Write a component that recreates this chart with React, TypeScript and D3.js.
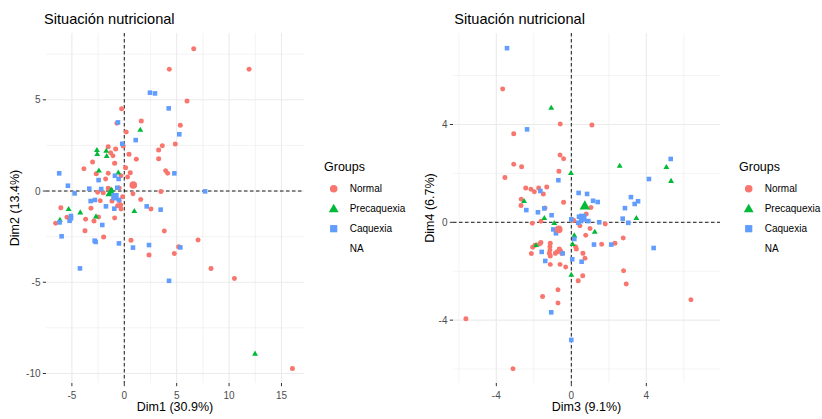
import React from "react";
import * as d3 from "d3";

type P = [number, number];

// ---------- data ----------
const groups = ["Normal", "Precaquexia", "Caquexia"];
const legendLabels = ["Normal", "Precaquexia", "Caquexia", "NA"];
const groupColors = ["#F8766D", "#00BA38", "#619CFF"];

// Dim1 vs Dim2
const dim12Normal: P[] = [
  [6.63, 7.8], [11.91, 6.67], [4.3, 6.67], [5.99, 4.93], [-0.25, 4.51], [1.62, 3.84],
  [-0.7, 3.71], [5.35, 3.6], [0.19, 3.23], [4.87, 2.58], [3.63, 2.48], [3.28, 2.25],
  [-1.53, 2.43], [-0.82, 2.3], [-0.1, 2.47], [-1.3, 2.1], [-1.08, 1.93], [0.45, 2.01],
  [1.15, 1.74], [3.28, 1.77], [-3.02, 1.59], [-0.92, 1.52], [-3.85, 1.22], [0.13, 1.28],
  [3.95, 1.11], [4.14, 0.97], [-2.67, 0.95], [-1.53, 0.97], [0.57, 1.0], [0.32, 0.77],
  [-1.78, 0.66], [3.5, -0.02], [0.83, -0.15], [-2.54, -0.07], [2.55, -0.99], [3.82, -2.19],
  [7.04, -2.68], [5.19, -3.05], [4.78, -3.42], [-0.31, 0.84], [-0.48, 0.16], [-1.53, 0.15],
  [-1.3, 0.05], [-0.15, -0.31], [1.57, -0.46], [-2.29, -0.53], [-0.48, -0.53], [-0.35, -0.77],
  [-0.31, -0.99], [-0.63, -0.8], [-6.05, -0.91], [-3.18, -0.95], [-5.47, -1.44], [-3.69, -1.55],
  [-2.45, -1.42], [-2.89, -1.64], [-0.92, -1.48], [-6.55, -1.77], [-3.75, -2.17], [-1.97, -2.52],
  [0.64, -2.7], [-1.17, -0.55], [2.36, -3.51], [8.28, -4.24], [10.51, -4.79], [16.05, -9.72],
  [-2.0, -0.09],
];
const dim12Precaquexia: P[] = [
  [1.53, 3.34], [-2.61, 2.23], [-2.58, 2.01], [-1.72, 2.19], [-1.68, 1.9], [-2.42, 1.11],
  [-0.57, 1.0], [-1.2, 0.05], [-5.31, -1.0], [-4.2, -1.19], [0.96, -1.11], [-6.14, -1.59],
  [-2.7, -1.41], [12.48, -8.93],
];
const dim12Caquexia: P[] = [
  [2.45, 5.39], [2.93, 5.35], [4.24, 4.53], [5.25, 3.11], [4.78, 0.97], [7.71, -0.02],
  [3.47, -1.02], [5.35, -3.09], [-6.21, 0.97], [-5.38, 0.29], [-4.74, -0.13], [-3.34, 0.13],
  [-2.45, 0.6], [-0.6, 3.76], [-0.19, 2.59], [1.09, 2.79], [-0.89, 0.84], [-0.54, 0.66],
  [-2.2, 0.11], [-3.21, -0.55], [-2.8, -0.49], [-1.75, -0.84], [2.14, -0.84], [-0.67, 0.18],
  [-5.09, -1.37], [-5.09, -1.5], [-6.17, -1.72], [-2.1, -1.86], [-5.98, -2.48], [-2.83, -2.72],
  [-2.73, -2.79], [-0.51, -2.87], [0.83, -3.1], [2.36, -2.96], [-0.95, -0.97], [-4.23, -4.24],
  [4.27, -4.92], [-5.22, -1.63], [-0.51, -0.49],
];
// group mean points: Normal, Precaquexia, Caquexia
const dim12Means: P[] = [[0.86, 0.33], [-1.3, -0.12], [-0.89, -0.31]];

// Dim3 vs Dim4
const dim34Normal: P[] = [
  [-3.66, 5.45], [-0.59, 4.02], [1.1, 3.98], [-3.07, 3.62], [-0.6, 2.75], [-0.41, 2.6],
  [-3.07, 2.37], [-2.65, 2.27], [-0.66, 2.09], [-3.54, 1.83], [-2.43, 1.4], [-2.15, 1.35],
  [-1.97, 1.25], [-1.74, 1.4], [-1.49, 1.16], [-1.31, 1.44], [-2.67, 0.94], [-0.41, 0.82],
  [-2.68, 0.69], [-1.4, 0.58], [1.05, 0.61], [-2.08, -0.04], [-1.62, 0.04], [0.8, 0.34],
  [1.81, -0.07], [0.77, -0.53], [1.62, -0.9], [2.33, -0.86], [2.77, -0.64], [-2.06, -1.02],
  [-1.94, -0.94], [-1.69, -0.89], [-1.62, -0.83], [-2.13, -1.28], [-1.12, -0.86], [-1.14, -1.0],
  [-1.14, -1.13], [-1.17, -1.27], [-1.12, -1.38], [-0.85, -1.27], [-0.64, -1.09], [-0.57, -1.16],
  [-0.51, -1.27], [-0.75, -1.2], [0.23, -1.0], [0.27, -1.09], [0.62, -1.27], [0.73, -1.47],
  [-1.12, -1.72], [-0.6, -1.72], [-0.3, -1.83], [2.79, -1.98], [0.61, -2.18], [0.37, -2.39],
  [2.93, -2.52], [-0.71, -2.76], [-1.53, -3.03], [-0.71, -3.3], [6.38, -3.17], [-5.62, -3.94],
  [-3.11, -5.99], [0.13, 0.07], [0.46, -0.14], [1.0, -0.25],
];
const dim34Precaquexia: P[] = [
  [-1.07, 4.67], [-0.02, 2.0], [2.58, 2.3], [5.07, 2.25], [5.32, 1.68], [-2.52, 0.86],
  [-1.44, 0.16], [-0.91, -0.04], [-1.88, -0.94], [0.16, -0.55], [1.25, -0.4], [0.07, -0.9],
  [3.47, 0.16], [0.0, -2.16],
];
const dim34Caquexia: P[] = [
  [-3.43, 7.12], [-2.36, 3.8], [-0.69, 1.72], [-1.65, 1.28], [0.39, 1.2], [0.84, 1.16],
  [1.16, 0.88], [1.41, 0.83], [3.18, 1.03], [3.56, 0.86], [3.38, 0.75], [4.14, 1.77],
  [5.3, 2.59], [2.86, 0.58], [-2.4, 0.5], [-1.44, 0.57], [-1.78, 0.41], [-1.05, 0.29],
  [0.0, 0.12], [0.41, 0.23], [0.52, 0.05], [0.66, 0.12], [0.91, 0.05], [1.49, 0.0],
  [0.37, -0.02], [2.74, 0.15], [3.04, -0.02], [-0.96, -0.29], [-0.82, -0.45], [-1.58, -1.21],
  [-1.39, -1.58], [-0.46, -1.27], [0.16, -0.68], [0.05, -1.51], [0.55, -1.61], [1.21, -0.91],
  [2.13, -0.91], [4.39, -1.05], [-1.07, -3.68], [0.0, -4.81],
];
const dim34Means: P[] = [[-0.67, -0.29], [0.72, 0.65], [0.61, 0.2]];

const dim12XTicks = [-5, 0, 5, 10, 15];
const dim12YTicks = [-10, -5, 0, 5];
const dim34XTicks = [-4, 0, 4];
const dim34YTicks = [-4, 0, 4];
const dim12Domain = { x: [-7.47, 17.15], y: [-10.52, 8.66] };
const dim34Domain = { x: [-6.31, 7.93], y: [-6.57, 7.74] };

const plotTitle = "Situación nutricional";
const legendTitle = "Groups";

// ---------- drawing ----------
const FONT = '"Liberation Sans", Arial, Helvetica, sans-serif';
const symbolTypes = [d3.symbolCircle, d3.symbolTriangle, d3.symbolSquare];
const pointSizes = [19.6, 15, 21];
const meanSizes = [46, 48, 56];
const keySizes = [45, 42, 52];

interface PanelCfg {
  titleX: number;
  left: number;
  right: number;
  top: number;
  bottom: number;
  xDomain: number[];
  yDomain: number[];
  xTicks: number[];
  yTicks: number[];
  xLabel: string;
  yLabel: string;
  yLabelX: number;
  legendX: number;
  series: P[][];
  means: P[];
}

function fmt(v: number) {
  return v < 0 ? "-" + Math.abs(v) : String(v);
}

function Panel({ cfg }: { cfg: PanelCfg }) {
  const x = d3.scaleLinear().domain(cfg.xDomain).range([cfg.left, cfg.right]);
  const y = d3.scaleLinear().domain(cfg.yDomain).range([cfg.bottom, cfg.top]);
  const xStep = cfg.xTicks[1] - cfg.xTicks[0];
  const yStep = cfg.yTicks[1] - cfg.yTicks[0];
  const xMinor = d3
    .range(cfg.xTicks[0] - xStep * 2, cfg.xTicks[cfg.xTicks.length - 1] + xStep * 2, xStep)
    .map((v) => v + xStep / 2)
    .filter((v) => v > cfg.xDomain[0] && v < cfg.xDomain[1]);
  const yMinor = d3
    .range(cfg.yTicks[0] - yStep * 2, cfg.yTicks[cfg.yTicks.length - 1] + yStep * 2, yStep)
    .map((v) => v + yStep / 2)
    .filter((v) => v > cfg.yDomain[0] && v < cfg.yDomain[1]);
  const grid = "#EBEBEB";
  const midX = (cfg.left + cfg.right) / 2;
  const midY = (cfg.top + cfg.bottom) / 2;
  const sym = (i: number, s: number) => d3.symbol().type(symbolTypes[i]).size(s)() || "";
  return (
    <g>
      <text x={cfg.titleX} y={24} fontSize={14.6} fontFamily={FONT} fill="#000">
        {plotTitle}
      </text>
      {xMinor.map((v) => (
        <line key={"xm" + v} x1={x(v)} x2={x(v)} y1={cfg.top} y2={cfg.bottom} stroke={grid} strokeWidth={0.6} />
      ))}
      {yMinor.map((v) => (
        <line key={"ym" + v} x1={cfg.left} x2={cfg.right} y1={y(v)} y2={y(v)} stroke={grid} strokeWidth={0.6} />
      ))}
      {cfg.xTicks.map((v) => (
        <line key={"xg" + v} x1={x(v)} x2={x(v)} y1={cfg.top} y2={cfg.bottom} stroke={grid} strokeWidth={1.1} />
      ))}
      {cfg.yTicks.map((v) => (
        <line key={"yg" + v} x1={cfg.left} x2={cfg.right} y1={y(v)} y2={y(v)} stroke={grid} strokeWidth={1.1} />
      ))}
      {cfg.xTicks.map((v) => (
        <g key={"xt" + v}>
          <line x1={x(v)} x2={x(v)} y1={cfg.bottom} y2={cfg.bottom + 3.2} stroke="#333" strokeWidth={1} />
          <text x={x(v)} y={cfg.bottom + 15.5} fontSize={10} fontFamily={FONT} fill="#4D4D4D" textAnchor="middle">
            {fmt(v)}
          </text>
        </g>
      ))}
      {cfg.yTicks.map((v) => (
        <g key={"yt" + v}>
          <line x1={cfg.left - 3.2} x2={cfg.left} y1={y(v)} y2={y(v)} stroke="#333" strokeWidth={1} />
          <text x={cfg.left - 5.5} y={y(v) + 3.6} fontSize={10} fontFamily={FONT} fill="#4D4D4D" textAnchor="end">
            {fmt(v)}
          </text>
        </g>
      ))}
      <line x1={x(0)} x2={x(0)} y1={cfg.top} y2={cfg.bottom} stroke="#000" strokeWidth={0.9} strokeDasharray="3.5,2.5" />
      <line x1={cfg.left} x2={cfg.right} y1={y(0)} y2={y(0)} stroke="#000" strokeWidth={0.9} strokeDasharray="3.5,2.5" />
      {cfg.series.map((pts, gi) =>
        pts.map((p, i) => (
          <path
            key={gi + "-" + i}
            d={sym(gi, pointSizes[gi])}
            transform={`translate(${x(p[0])},${y(p[1])})`}
            fill={groupColors[gi]}
          />
        ))
      )}
      {cfg.means.map((p, gi) => (
        <path
          key={"m" + gi}
          d={sym(gi, meanSizes[gi])}
          transform={`translate(${x(p[0])},${y(p[1])})`}
          fill={groupColors[gi]}
        />
      ))}
      <text x={midX} y={411} fontSize={12.5} fontFamily={FONT} fill="#000" textAnchor="middle">
        {cfg.xLabel}
      </text>
      <text
        transform={`translate(${cfg.yLabelX},${midY}) rotate(-90)`}
        fontSize={12.5}
        fontFamily={FONT}
        fill="#000"
        textAnchor="middle"
      >
        {cfg.yLabel}
      </text>
      <text x={cfg.legendX} y={170.5} fontSize={12.5} fontFamily={FONT} fill="#000">
        {legendTitle}
      </text>
      {legendLabels.map((lab, i) => {
        const cy = 188.7 + i * 20;
        return (
          <g key={"lg" + i}>
            {i < groups.length && (
              <path
                d={sym(i, keySizes[i])}
                transform={`translate(${cfg.legendX + 9.7},${cy + (i === 1 ? 0.8 : 0)})`}
                fill={groupColors[i]}
              />
            )}
            <text x={cfg.legendX + 25.7} y={cy + 3.6} fontSize={10} fontFamily={FONT} fill="#000">
              {lab}
            </text>
          </g>
        );
      })}
    </g>
  );
}

export default function App() {
  const left: PanelCfg = {
    titleX: 44,
    left: 46,
    right: 304,
    top: 33,
    bottom: 383,
    xDomain: dim12Domain.x,
    yDomain: dim12Domain.y,
    xTicks: dim12XTicks,
    yTicks: dim12YTicks,
    xLabel: "Dim1 (30.9%)",
    yLabel: "Dim2 (13.4%)",
    yLabelX: 18.5,
    legendX: 324,
    series: [dim12Normal, dim12Precaquexia, dim12Caquexia],
    means: dim12Means,
  };
  const right: PanelCfg = {
    titleX: 454.3,
    left: 453,
    right: 720,
    top: 33,
    bottom: 383,
    xDomain: dim34Domain.x,
    yDomain: dim34Domain.y,
    xTicks: dim34XTicks,
    yTicks: dim34YTicks,
    xLabel: "Dim3 (9.1%)",
    yLabel: "Dim4 (6.7%)",
    yLabelX: 434,
    legendX: 739,
    series: [dim34Normal, dim34Precaquexia, dim34Caquexia],
    means: dim34Means,
  };
  return (
    <svg
      width={822}
      height={419}
      viewBox="0 0 822 419"
      style={{ position: "absolute", left: 0, top: 0, background: "#fff" }}
    >
      <rect width={822} height={419} fill="#fff" />
      <Panel cfg={left} />
      <Panel cfg={right} />
    </svg>
  );
}
